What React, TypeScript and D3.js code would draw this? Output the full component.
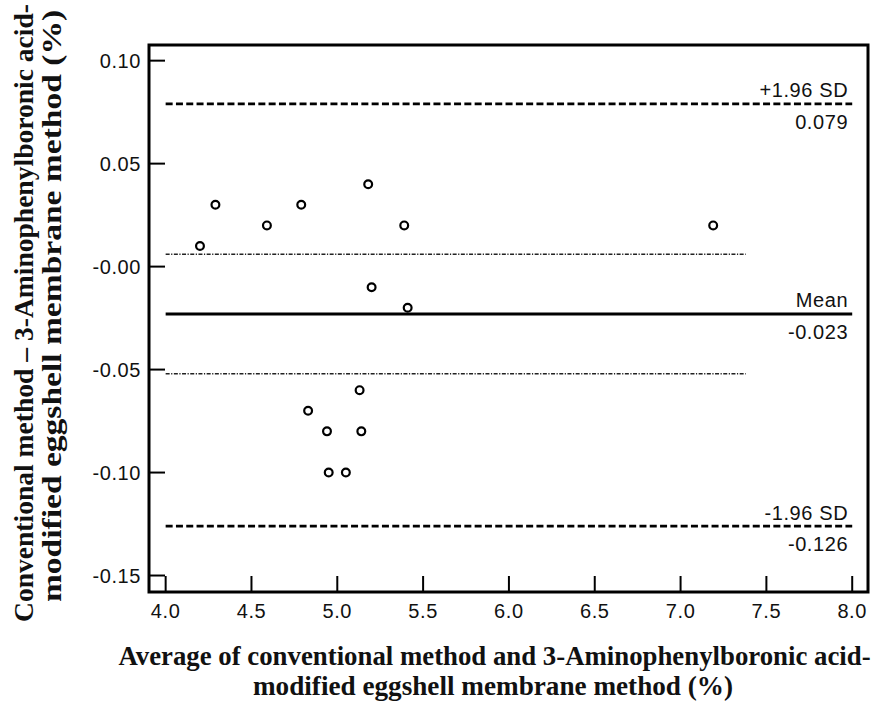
import React, { useLayoutEffect, useRef, useState } from "react";
import * as d3 from "d3";

// Bland–Altman data: mean of the two methods (x) vs. their difference (y)
const averages = [4.2, 4.29, 4.59, 4.79, 5.18, 5.39, 7.19, 5.2, 5.41, 4.83, 4.94, 5.13, 5.14, 4.95, 5.05];
const differences = [0.01, 0.03, 0.02, 0.03, 0.04, 0.02, 0.02, -0.01, -0.02, -0.07, -0.08, -0.06, -0.08, -0.1, -0.1];

const xTicks = [4.0, 4.5, 5.0, 5.5, 6.0, 6.5, 7.0, 7.5, 8.0];
const yTicks = [0.1, 0.05, 0.0, -0.05, -0.1, -0.15];
const yTickLabels = ["0.10", "0.05", "-0.00", "-0.05", "-0.10", "-0.15"];

const meanDiff = -0.023;
const upperLimit = 0.079;
const lowerLimit = -0.126;
const limitLabels = ["+1.96 SD", "Mean", "-1.96 SD"];
const limitValues = ["0.079", "-0.023", "-0.126"];

// Dash-dot band around the mean difference
const bandValues = [0.006, -0.052];
const bandRange = [4.0, 7.38];

const xTitle = ["Average of conventional method and 3-Aminophenylboronic acid-", "modified eggshell membrane method (%)"];
const yTitle = ["Conventional method – 3-Aminophenylboronic acid-", "modified eggshell membrane method (%)"];

const W = 874;
const H = 702;
const frame = { left: 149, right: 868, top: 45, bottom: 592 };
const serif = "'Liberation Serif', 'Times New Roman', serif";
const sans = "'Liberation Sans', Arial, sans-serif";

// Bold serif title squeezed horizontally to a given width
function FitText({ cx, cy, rotate, width, children }: { cx: number; cy: number; rotate: number; width: number; children: string }) {
  const ref = useRef<SVGTextElement>(null);
  const [s, setS] = useState(0.86);
  useLayoutEffect(() => {
    if (ref.current) {
      const n = ref.current.getComputedTextLength();
      if (n > 0) setS(width / n);
    }
  }, [width, children]);
  return (
    <text
      ref={ref}
      transform={`translate(${cx},${cy}) rotate(${rotate}) scale(${s},1)`}
      textAnchor="middle"
      fontFamily={serif}
      fontWeight="bold"
      fontSize={27.5}
      fill="#111"
    >
      {children}
    </text>
  );
}

export default function App() {
  const x = d3.scaleLinear().domain([3.903, 8.092]).range([frame.left, frame.right]);
  const y = d3.scaleLinear().domain([-0.158, 0.1076]).range([frame.bottom, frame.top]);

  const tickLen = 16;
  const lineX0 = x(4.0);
  const lineX1 = x(8.0);
  const labelRight = lineX1 - 4;
  const labelSize = 20;
  const labelSpacing = 0.6;

  const limits = [upperLimit, meanDiff, lowerLimit];

  return (
    <svg
      width={W}
      height={H}
      viewBox={`0 0 ${W} ${H}`}
      style={{ position: "absolute", left: 0, top: 0, background: "#fff" }}
    >
      {/* ticks (inside the frame) */}
      {xTicks.map((t) => (
        <line key={`xt${t}`} x1={x(t)} x2={x(t)} y1={frame.bottom} y2={frame.bottom - tickLen} stroke="#000" strokeWidth={2} />
      ))}
      {yTicks.map((t) => (
        <line key={`yt${t}`} x1={frame.left} x2={frame.left + tickLen} y1={y(t)} y2={y(t)} stroke="#000" strokeWidth={2} />
      ))}

      {/* tick labels */}
      {xTicks.map((t) => (
        <text key={`xl${t}`} x={x(t)} y={618} textAnchor="middle" fontFamily={sans} fontSize={labelSize} letterSpacing={labelSpacing} fill="#111">
          {t.toFixed(1)}
        </text>
      ))}
      {yTicks.map((t, i) => (
        <text key={`yl${t}`} x={141} y={y(t) + 7} textAnchor="end" fontFamily={sans} fontSize={labelSize} letterSpacing={labelSpacing} fill="#111">
          {yTickLabels[i]}
        </text>
      ))}

      {/* dash-dot band */}
      {bandValues.map((v) => (
        <line
          key={`b${v}`}
          x1={x(bandRange[0])}
          x2={x(bandRange[1])}
          y1={y(v)}
          y2={y(v)}
          stroke="#222"
          strokeWidth={1.6}
          strokeDasharray="4 1.5 1.2 1.5"
        />
      ))}

      {/* limits of agreement and mean difference */}
      {limits.map((v, i) => (
        <g key={`lim${i}`}>
          <line
            x1={lineX0}
            x2={lineX1}
            y1={y(v)}
            y2={y(v)}
            stroke="#000"
            strokeWidth={i === 1 ? 3 : 2.8}
            strokeDasharray={i === 1 ? undefined : "7 3.3"}
          />
          <text x={labelRight} y={y(v) - 6.5} textAnchor="end" fontFamily={sans} fontSize={labelSize} letterSpacing={labelSpacing} fill="#111">
            {limitLabels[i]}
          </text>
          <text x={labelRight} y={y(v) + 25} textAnchor="end" fontFamily={sans} fontSize={labelSize} letterSpacing={labelSpacing} fill="#111">
            {limitValues[i]}
          </text>
        </g>
      ))}

      {/* data points */}
      {averages.map((a, i) => (
        <circle key={`p${i}`} cx={x(a)} cy={y(differences[i])} r={3.9} fill="#fff" stroke="#000" strokeWidth={2.2} />
      ))}

      {/* frame */}
      <rect
        x={frame.left}
        y={frame.top}
        width={frame.right - frame.left}
        height={frame.bottom - frame.top}
        fill="none"
        stroke="#000"
        strokeWidth={3}
      />

      {/* axis titles */}
      <FitText cx={494.5} cy={665} rotate={0} width={752}>{xTitle[0]}</FitText>
      <FitText cx={493} cy={695} rotate={0} width={480}>{xTitle[1]}</FitText>
      <FitText cx={33} cy={313} rotate={-90} width={618}>{yTitle[0]}</FitText>
      <FitText cx={61} cy={306} rotate={-90} width={592}>{yTitle[1]}</FitText>
    </svg>
  );
}
